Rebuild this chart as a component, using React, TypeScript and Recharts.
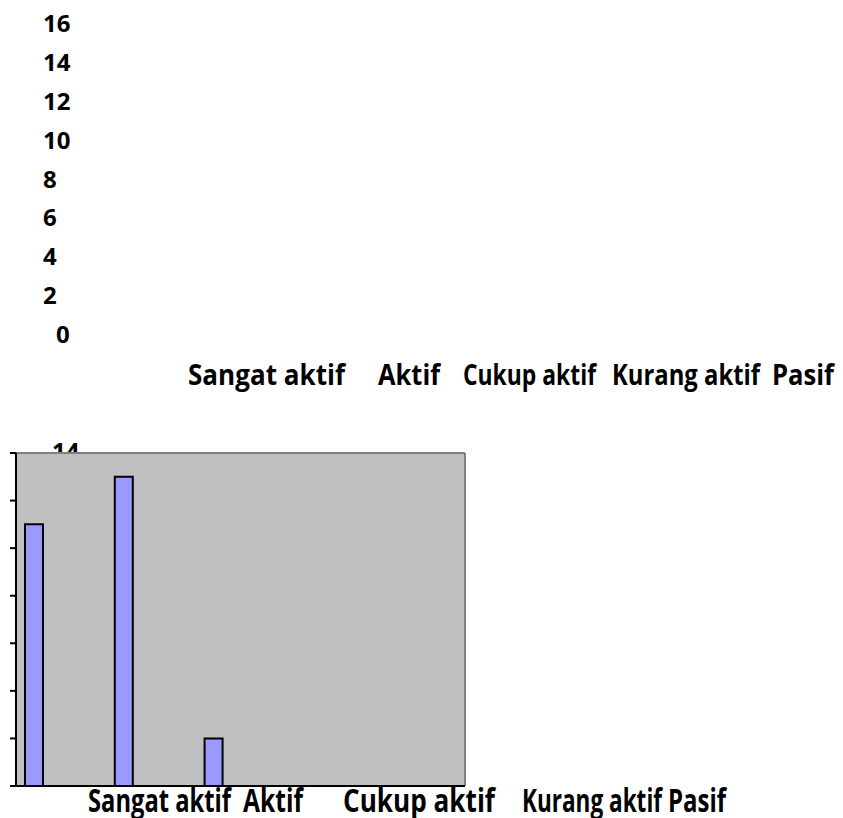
import React from "react";
import { BarChart, Bar, XAxis, YAxis, CartesianGrid, ReferenceLine } from "recharts";

// data kategori keaktifan
const categories = ["Sangat aktif", "Aktif", "Cukup aktif", "Kurang aktif", "Pasif"];
const jumlah = [11, 13, 2, 0, 0];
const seriKosong = [0, 0, 0, 0, 0];
const ticksAtas = [0, 2, 4, 6, 8, 10, 12, 14, 16];
const ticksBawah = [0, 2, 4, 6, 8, 10, 12, 14];
const batasKategori = [0, 1, 2, 3, 4, 5];

const data = categories.map((nama, i) => ({
  nama,
  urutan: i,
  jumlah: jumlah[i],
  s2: seriKosong[i],
  s3: seriKosong[i],
  s4: seriKosong[i],
}));

// posisi teks label (label tidak sejajar dengan kategorinya)
const LABEL_ATAS = { x: [188, 378, 463, 612, 772], w: [157, 62, 133, 148, 62], skala: 0.86, size: 28 };
const LABEL_BAWAH = { x: [88, 243, 343, 522, 668], w: [143, 60, 152, 140, 58], skala: 0.73, size: 32 };

const FONT = "'Open Sans', 'Liberation Sans', sans-serif";

// label sumbu y atas (rata kiri, 0 agak masuk)
const AngkaAtas = (props: any) => {
  const { x, y, payload } = props;
  const geser = payload.value === 0 ? 13 : 0;
  return (
    <text x={x - 37 + geser} y={y + 9} fontFamily={FONT} fontWeight={700} fontSize={24} fill="#000" textAnchor="start">
      {payload.value}
    </text>
  );
};

const teksLabel = (cfg: any, i: number, baseline: number) => (
  <text
    transform={`translate(${cfg.x[i]},${baseline}) scale(${cfg.skala},1)`}
    x={0}
    y={0}
    fontFamily={FONT}
    fontWeight={700}
    fontSize={cfg.size}
    fill="#000"
    textLength={cfg.w[i] / cfg.skala}
    lengthAdjust="spacingAndGlyphs"
  >
    {categories[i]}
  </text>
);

const LabelAtas = (props: any) => teksLabel(LABEL_ATAS, props.index, props.y + 51);
const LabelBawah = (props: any) => teksLabel(LABEL_BAWAH, props.index, props.y + 25);

// hanya "14" yang muncul, sebagian tertutup area plot
const AngkaBawah = (props: any) => {
  const { x, y, payload } = props;
  if (payload.value !== 14) return null;
  return (
    <svg x={x + 42} y={y - 20} width={50} height={19} overflow="hidden">
      <text x={2} y={27} fontFamily={FONT} fontWeight={700} fontSize={24} fill="#000">
        14
      </text>
    </svg>
  );
};

export default function App() {
  return (
    <div style={{ position: "absolute", left: 0, top: 0, width: 843, height: 818, background: "#fff" }}>
      <div style={{ position: "absolute", left: 0, top: 0 }}>
        <BarChart width={843} height={400} data={data} margin={{ top: 23, right: 0, bottom: 0, left: 0 }}>
          <XAxis dataKey="nama" height={66} axisLine={false} tickLine={false} tickSize={0} tickMargin={0} interval={0} tick={<LabelAtas />} />
          <YAxis
            width={80}
            domain={[0, 16]}
            allowDataOverflow
            includeHidden
            ticks={ticksAtas}
            axisLine={false}
            tickLine={false}
            tickSize={0}
            tickMargin={0}
            interval={0}
            tick={<AngkaAtas />}
          />
          <Bar dataKey="jumlah" hide isAnimationActive={false} />
        </BarChart>
      </div>

      <div style={{ position: "absolute", left: 0, top: 420 }}>
        <BarChart
          width={843}
          height={398}
          data={data}
          margin={{ top: 33, right: 378, bottom: 0, left: 0 }}
          barCategoryGap="10%"
          barGap={0}
        >
          <CartesianGrid xAxisId="label" horizontal={false} vertical={false} fill="#c0c0c0" fillOpacity={1} />
          <XAxis
            xAxisId="batas"
            dataKey="urutan"
            type="number"
            domain={[0, 5]}
            allowDataOverflow
            ticks={batasKategori}
            interval={0}
            height={1}
            tick={false}
            tickSize={6}
            axisLine={{ stroke: "#000", strokeWidth: 2 }}
            tickLine={{ stroke: "#000", strokeWidth: 2 }}
          />
          <XAxis
            xAxisId="label"
            dataKey="nama"
            height={31}
            interval={0}
            tickSize={0}
            tickMargin={0}
            tickLine={false}
            axisLine={false}
            tick={<LabelBawah />}
          />
          <YAxis
            width={16}
            domain={[0, 14]}
            ticks={ticksBawah}
            interval={0}
            tickSize={6}
            tickMargin={2}
            axisLine={{ stroke: "#000", strokeWidth: 2 }}
            tickLine={{ stroke: "#000", strokeWidth: 2 }}
            tick={<AngkaBawah />}
          />
          <ReferenceLine xAxisId="label" y={14} stroke="#808080" strokeWidth={2} />
          <ReferenceLine xAxisId="label" x="Pasif" position="end" stroke="#808080" strokeWidth={2} />
          <Bar xAxisId="label" dataKey="jumlah" fill="#9999ff" stroke="#000" strokeWidth={2} isAnimationActive={false} />
          <Bar xAxisId="label" dataKey="s2" fill="#993366" stroke="#000" strokeWidth={2} isAnimationActive={false} />
          <Bar xAxisId="label" dataKey="s3" fill="#ffffcc" stroke="#000" strokeWidth={2} isAnimationActive={false} />
          <Bar xAxisId="label" dataKey="s4" fill="#ccffff" stroke="#000" strokeWidth={2} isAnimationActive={false} />
        </BarChart>
      </div>
    </div>
  );
}
